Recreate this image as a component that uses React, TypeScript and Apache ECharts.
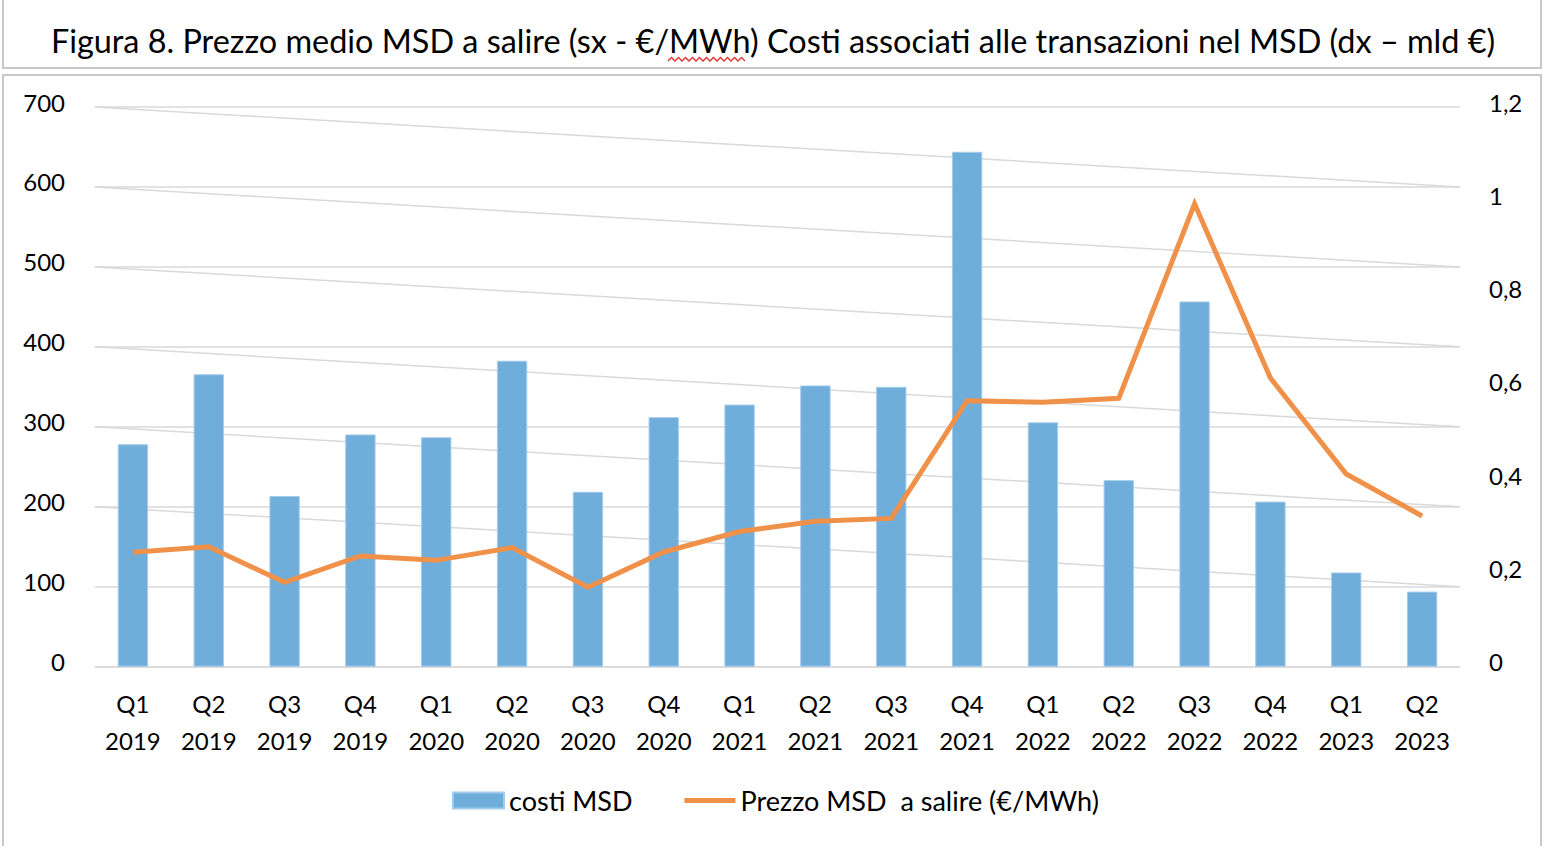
import React, { useEffect, useRef } from 'react';
import * as echarts from 'echarts';

const categories = [
  'Q1\n2019', 'Q2\n2019', 'Q3\n2019', 'Q4\n2019',
  'Q1\n2020', 'Q2\n2020', 'Q3\n2020', 'Q4\n2020',
  'Q1\n2021', 'Q2\n2021', 'Q3\n2021', 'Q4\n2021',
  'Q1\n2022', 'Q2\n2022', 'Q3\n2022', 'Q4\n2022',
  'Q1\n2023', 'Q2\n2023',
];

// costi MSD (mld €, right axis)
const costiMSD = [
  0.477, 0.627, 0.366, 0.498,
  0.492, 0.656, 0.375, 0.535,
  0.562, 0.603, 0.6, 1.104,
  0.524, 0.4, 0.783, 0.354,
  0.202, 0.161,
];

// Prezzo MSD a salire (€/MWh, left axis)
const prezzoMSD = [
  143, 150, 105.5, 138.5,
  133, 149, 99.3, 143.5,
  169, 182, 185.5, 332.7,
  330.7, 335.7, 579, 361,
  241, 188.5,
];

const leftMin = 0;
const leftMax = 700;
const leftStep = 100;
const rightMin = 0;
const rightMax = 1.2;
const rightStep = 0.2;

// slanted light lines: start at a left tick, end one step lower at the right edge
const slantStarts = [700, 600, 500, 400, 300, 200];

const TITLE = 'Figura 8. Prezzo medio MSD a salire (sx - €/MWh) Costi associati alle transazioni nel MSD (dx – mld €)';
const NAME_BAR = 'costi MSD';
const NAME_LINE = 'Prezzo MSD  a salire (€/MWh)';

const FONT = 'Lato, "Noto Sans", sans-serif';
const GRID_COLOR = '#d9d9d9';
const ORANGE = '#F0914A';

export default function App() {
  const ref = useRef<HTMLDivElement | null>(null);

  useEffect(() => {
    if (!ref.current) return;
    const chart = echarts.init(ref.current, undefined, { renderer: 'svg' });

    const slantSeries = slantStarts.map((s, i) => ({
      name: 'slant' + i,
      type: 'line',
      xAxisIndex: 1,
      yAxisIndex: 0,
      data: [[0, s], [1, s - leftStep]],
      symbol: 'none',
      silent: true,
      z: 1,
      lineStyle: { color: GRID_COLOR, width: 1.5 },
      tooltip: { show: false },
    }));

    const squiggle: number[][] = [];
    for (let x = 668, k = 0; x <= 746; x += 3.5, k++) {
      squiggle.push([x, k % 2 === 0 ? 61 : 57.5]);
    }

    chart.setOption({
      animation: false,
      backgroundColor: '#ffffff',
      textStyle: { fontFamily: FONT },
      title: {
        text: TITLE,
        left: 'center',
        top: 19,
        textStyle: { fontFamily: FONT, fontSize: 32.4, fontWeight: 'normal', color: '#000' },
      },
      graphic: [
        { type: 'rect', shape: { x: 3, y: -2, width: 1538, height: 70 }, style: { fill: 'none', stroke: '#c8c8c8', lineWidth: 2 }, silent: true },
        { type: 'rect', shape: { x: 3, y: 75, width: 1538, height: 800 }, style: { fill: 'none', stroke: '#c8c8c8', lineWidth: 2 }, silent: true },
        { type: 'polyline', shape: { points: squiggle }, style: { stroke: '#e03030', lineWidth: 1.3, fill: 'none' }, silent: true, z: 10 },
      ],
      legend: {
        data: [
          { name: NAME_BAR, icon: 'rect' },
          { name: NAME_LINE, icon: 'path://M0,0h51v5h-51z', itemStyle: { color: ORANGE } },
        ],
        left: 452,
        top: 787,
        padding: 0,
        itemWidth: 51,
        itemHeight: 16,
        itemGap: 52,
        textStyle: { fontFamily: FONT, fontSize: 27, color: '#000' },
      },
      grid: { left: 95, right: 86, top: 107, bottom: 179.3, containLabel: false },
      xAxis: [
        {
          type: 'category',
          data: categories,
          axisLine: { show: true, lineStyle: { color: GRID_COLOR, width: 1.5 } },
          axisTick: { show: false },
          axisLabel: { interval: 0, fontFamily: FONT, fontSize: 24, lineHeight: 37, margin: 18, color: '#000' },
          splitLine: { show: false },
        },
        { type: 'value', min: 0, max: 1, show: false, splitLine: { show: false } },
      ],
      yAxis: [
        {
          type: 'value',
          position: 'left',
          min: leftMin,
          max: leftMax,
          interval: leftStep,
          axisLine: { show: false },
          axisTick: { show: false },
          splitLine: { show: true, lineStyle: { color: GRID_COLOR, width: 1.5 } },
          axisLabel: { fontFamily: FONT, fontSize: 24, color: '#000', margin: 30, verticalAlign: 'bottom', lineHeight: 10 },
        },
        {
          type: 'value',
          position: 'right',
          min: rightMin,
          max: rightMax,
          interval: rightStep,
          axisLine: { show: false },
          axisTick: { show: false },
          splitLine: { show: false },
          axisLabel: {
            fontFamily: FONT, fontSize: 24, color: '#000', margin: 29, verticalAlign: 'bottom', lineHeight: 10,
            formatter: (v: number) => String(+v.toFixed(1)).replace('.', ','),
          },
        },
      ],
      series: [
        ...slantSeries,
        {
          name: NAME_BAR,
          type: 'bar',
          xAxisIndex: 0,
          yAxisIndex: 1,
          data: costiMSD,
          barWidth: '40%',
          z: 2,
          itemStyle: { color: '#6FADDB', borderColor: '#A5CBEA', borderWidth: 1 },
        },
        {
          name: NAME_LINE,
          type: 'line',
          xAxisIndex: 0,
          yAxisIndex: 0,
          data: prezzoMSD,
          symbol: 'none',
          z: 3,
          lineStyle: { color: ORANGE, width: 5, join: 'miter' },
          itemStyle: { color: ORANGE },
        },
      ],
    });

    return () => chart.dispose();
  }, []);

  return (
    <div
      ref={ref}
      style={{ position: 'absolute', left: 0, top: 0, width: 1546, height: 846 }}
    />
  );
}
